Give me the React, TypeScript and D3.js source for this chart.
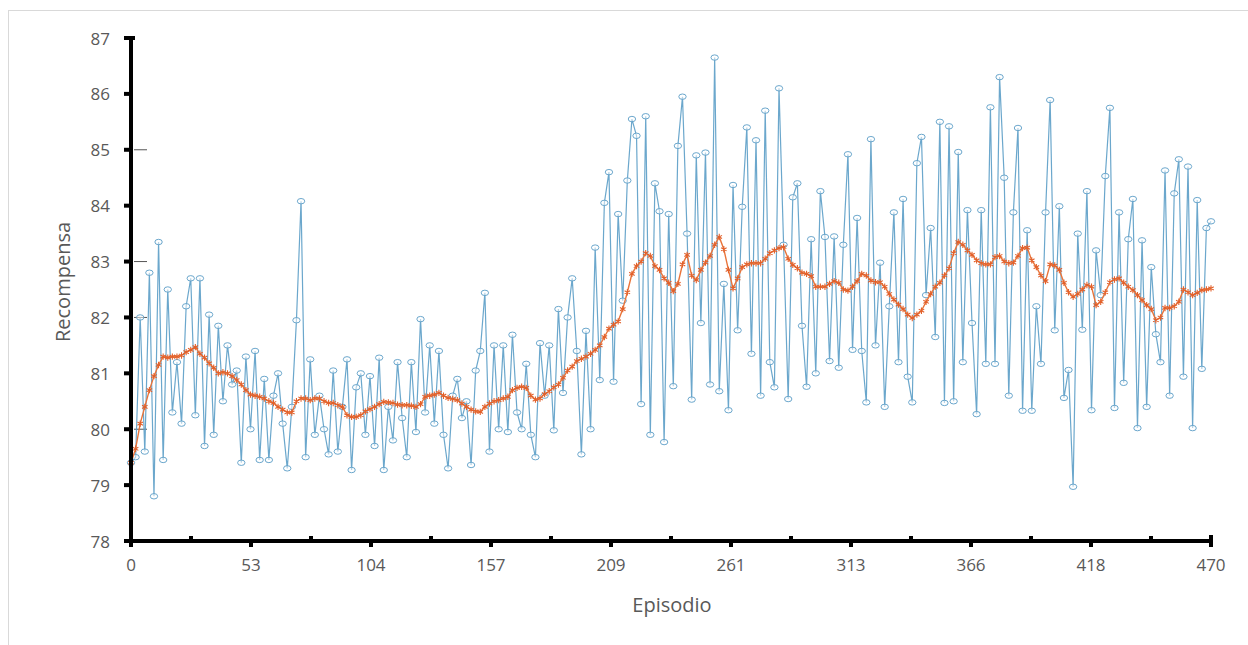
import * as d3 from "d3";

// blue series: reward per episode (sampled every 2 episodes)
const rewards = [
  79.4, 79.5, 82.0, 79.6, 82.8, 78.8, 83.35, 79.45, 82.5, 80.3,
  81.2, 80.1, 82.2, 82.7, 80.25, 82.7, 79.7, 82.05, 79.9, 81.85,
  80.5, 81.5, 80.8, 81.05, 79.4, 81.3, 80.0, 81.4, 79.45, 80.9,
  79.45, 80.6, 81.0, 80.1, 79.3, 80.4, 81.95, 84.08, 79.5, 81.25,
  79.9, 80.6, 80.0, 79.55, 81.05, 79.6, 80.4, 81.25, 79.27, 80.75,
  81.0, 79.9, 80.95, 79.7, 81.28, 79.27, 80.4, 79.8, 81.2, 80.2,
  79.5, 81.2, 79.95, 81.97, 80.3, 81.5, 80.1, 81.4, 79.9, 79.3,
  80.6, 80.9, 80.2, 80.5, 79.36, 81.05, 81.4, 82.44, 79.6, 81.5,
  80.0, 81.5, 79.95, 81.69, 80.3, 80.0, 81.17, 79.9, 79.5, 81.54,
  80.6, 81.5, 79.98, 82.15, 80.65, 82.0, 82.7, 81.4, 79.55, 81.76,
  80.0, 83.25, 80.88, 84.05, 84.6, 80.85, 83.85, 82.3, 84.45, 85.55,
  85.25, 80.45, 85.6, 79.9, 84.4, 83.9, 79.77, 83.85, 80.77, 85.07,
  85.95, 83.5, 80.53, 84.9, 81.9, 84.95, 80.8, 86.65, 80.68, 82.6,
  80.34, 84.37, 81.77, 83.98, 85.4, 81.35, 85.17, 80.6, 85.7, 81.2,
  80.75, 86.1, 83.3, 80.54, 84.15, 84.4, 81.85, 80.76, 83.4, 81.0,
  84.26, 83.44, 81.22, 83.45, 81.1, 83.3, 84.92, 81.42, 83.78, 81.4,
  80.48, 85.19, 81.5, 82.98, 80.4, 82.2, 83.88, 81.2, 84.12, 80.94,
  80.48, 84.76, 85.23, 82.4, 83.6, 81.65, 85.5, 80.47, 85.42, 80.5,
  84.96, 81.2, 83.92, 81.9, 80.27, 83.92, 81.17, 85.76, 81.17, 86.3,
  84.5, 80.6, 83.88, 85.39, 80.33, 83.56, 80.33, 82.2, 81.17, 83.88,
  85.89, 81.77, 83.99, 80.56, 81.06, 78.97, 83.5, 81.78, 84.26, 80.34,
  83.2, 82.4, 84.53, 85.75, 80.38, 83.88, 80.83, 83.4, 84.12, 80.02,
  83.38, 80.4, 82.9, 81.7, 81.2, 84.63, 80.6, 84.22, 84.83, 80.94,
  84.7, 80.02, 84.1, 81.08, 83.6, 83.72,
];

// orange series: moving average
const average = [
  79.4, 79.65, 80.1, 80.4, 80.7, 80.95, 81.15, 81.3, 81.28, 81.3,
  81.3, 81.32, 81.38, 81.42, 81.47, 81.35, 81.28, 81.18, 81.1, 81.0,
  81.02, 81.0, 80.95, 80.88, 80.8, 80.7, 80.62, 80.6, 80.58, 80.55,
  80.5, 80.47, 80.4, 80.35, 80.3, 80.3, 80.5, 80.55, 80.55, 80.52,
  80.55, 80.55, 80.5, 80.47, 80.47, 80.43, 80.4, 80.25, 80.22, 80.22,
  80.25, 80.32, 80.36, 80.4, 80.45, 80.49, 80.48, 80.47, 80.44, 80.43,
  80.43, 80.42, 80.4, 80.45, 80.58, 80.6, 80.62, 80.65, 80.6, 80.56,
  80.54, 80.52, 80.46, 80.4, 80.35, 80.32, 80.31, 80.4, 80.46, 80.5,
  80.52, 80.55, 80.58, 80.7, 80.74, 80.76, 80.74, 80.6, 80.53, 80.55,
  80.63, 80.68, 80.75, 80.8, 80.92, 81.05, 81.12, 81.22, 81.26, 81.3,
  81.35, 81.42, 81.5, 81.65, 81.8, 81.87, 81.93, 82.15, 82.45, 82.78,
  82.92, 83.0, 83.15, 83.1, 82.92, 82.85, 82.7, 82.62, 82.47, 82.6,
  82.95, 83.12, 82.75, 82.67, 82.85, 82.98, 83.1, 83.3, 83.44, 83.22,
  82.85, 82.52, 82.7, 82.9, 82.95, 82.97, 82.97, 82.97, 83.05, 83.15,
  83.2, 83.24, 83.26, 83.05, 82.94, 82.88, 82.8, 82.78, 82.74, 82.55,
  82.55, 82.55, 82.6, 82.65, 82.62, 82.5, 82.48, 82.55, 82.65, 82.78,
  82.75, 82.66, 82.63, 82.63, 82.55, 82.42, 82.32, 82.23, 82.15, 82.05,
  81.99, 82.05, 82.12, 82.28, 82.42, 82.55, 82.62, 82.75, 82.88, 83.15,
  83.35, 83.3, 83.2, 83.12, 83.02, 82.97, 82.95, 82.95, 83.08, 83.1,
  83.0, 82.97, 82.98, 83.1, 83.24, 83.25, 83.02, 82.9, 82.75, 82.65,
  82.95, 82.93, 82.85, 82.62, 82.45, 82.37, 82.42, 82.5, 82.58, 82.55,
  82.22, 82.28, 82.45, 82.63, 82.68, 82.7, 82.62, 82.55, 82.49, 82.4,
  82.31, 82.22, 82.15, 81.95, 82.0, 82.17, 82.17, 82.2, 82.28, 82.5,
  82.45, 82.4, 82.44, 82.49, 82.5, 82.52,
];

const xTickLabels = ["0", "53", "104", "157", "209", "261", "313", "366", "418", "470"];
const yTicks = [78, 79, 80, 81, 82, 83, 84, 85, 86, 87];
const innerDashes = [85, 83, 82, 80];

const W = 1248;
const H = 645;
const left = 131;
const right = 1211;
const top = 38;
const bottom = 541;
const font = "'Open Sans', Lato, sans-serif";
const textColor = "#595959";

export default function App() {
  const episodes = rewards.map((_, i) => i * 2);
  const x = d3.scaleLinear().domain([0, 470]).range([left, right]);
  const y = d3.scaleLinear().domain([78, 87]).range([bottom, top]);

  const lineBlue = d3
    .line<number>()
    .x((_, i) => x(episodes[i]))
    .y((d) => y(d));
  const lineOrange = d3
    .line<number>()
    .x((_, i) => x(episodes[i]))
    .y((d) => y(d));

  const star = d3.symbol().type(d3.symbolAsterisk).size(28)()!;

  const majorX = xTickLabels.map((_, k) => left + (k * (right - left)) / 9);
  const minorX = majorX.slice(0, -1).map((v, k) => (v + majorX[k + 1]) / 2);

  return (
    <svg
      width={W}
      height={H}
      style={{ position: "absolute", left: 0, top: 0, background: "#fff" }}
    >
      {/* faint outer frame */}
      <line x1={8} x2={W} y1={10.5} y2={10.5} stroke="#d9d9d9" />
      <line x1={8.5} x2={8.5} y1={10} y2={H} stroke="#d9d9d9" />

      {innerDashes.map((v) => (
        <line key={v} x1={134} x2={147} y1={y(v)} y2={y(v)} stroke="#555" strokeWidth={1} />
      ))}

      {/* blue series */}
      <path d={lineBlue(rewards)!} fill="none" stroke="#5b9dc6" strokeWidth={1.2} strokeOpacity={0.9} />
      {rewards.map((v, i) => (
        <ellipse
          key={i}
          cx={x(episodes[i])}
          cy={y(v)}
          rx={3.7}
          ry={2.7}
          fill="#fff"
          fillOpacity={0.5}
          stroke="#5b9dc6"
          strokeWidth={0.9}
        />
      ))}

      {/* orange moving average */}
      <path d={lineOrange(average)!} fill="none" stroke="#e9743a" strokeWidth={1.4} />
      {average.map((v, i) => (
        <path
          key={i}
          d={star}
          transform={`translate(${x(episodes[i])},${y(v)})`}
          fill="none"
          stroke="#e2602a"
          strokeWidth={1.1}
        />
      ))}

      {/* axes */}
      <line x1={left} x2={left} y1={top - 2} y2={bottom + 2} stroke="#000" strokeWidth={4} />
      <line x1={left - 2} x2={right + 2} y1={bottom} y2={bottom} stroke="#000" strokeWidth={4} />
      {yTicks.map((t) => (
        <g key={t}>
          <line x1={left - 7} x2={left} y1={y(t)} y2={y(t)} stroke="#000" strokeWidth={4} />
          <text
            x={left - 21}
            y={y(t)}
            textAnchor="end"
            dominantBaseline="central"
            fontFamily={font}
            fontSize={17}
            fill={textColor}
          >
            {t}
          </text>
        </g>
      ))}
      <line x1={left - 4} x2={left + 4} y1={top} y2={top} stroke="#000" strokeWidth={4} />
      {majorX.map((px, k) => (
        <g key={k}>
          <line x1={px} x2={px} y1={bottom} y2={bottom + 6} stroke="#000" strokeWidth={4} />
          <text
            x={px}
            y={564}
            textAnchor="middle"
            dominantBaseline="central"
            fontFamily={font}
            fontSize={17}
            fill={textColor}
          >
            {xTickLabels[k]}
          </text>
        </g>
      ))}
      <line x1={right} x2={right} y1={bottom - 6} y2={bottom + 6} stroke="#000" strokeWidth={4} />
      {minorX.map((px, k) => (
        <line key={k} x1={px} x2={px} y1={bottom - 5} y2={bottom} stroke="#000" strokeWidth={4} />
      ))}

      <text
        x={672}
        y={604}
        textAnchor="middle"
        dominantBaseline="central"
        fontFamily={font}
        fontSize={20}
        fill={textColor}
      >
        Episodio
      </text>
      <text
        transform="translate(62,282) rotate(-90)"
        textAnchor="middle"
        dominantBaseline="central"
        fontFamily={font}
        fontSize={20}
        fill={textColor}
      >
        Recompensa
      </text>
    </svg>
  );
}
